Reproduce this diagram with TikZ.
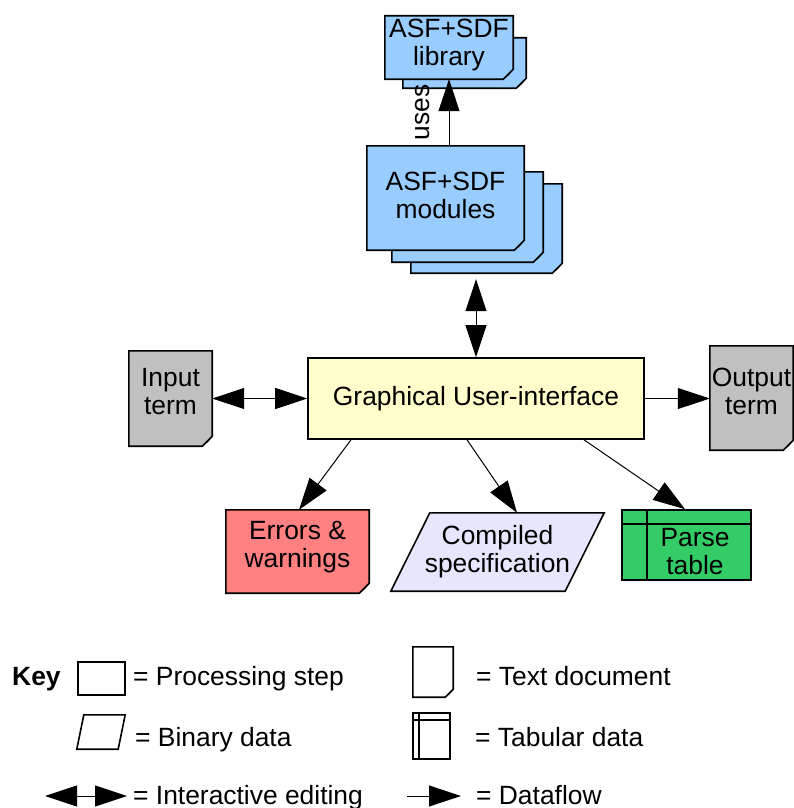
\documentclass[tikz,border=0pt]{standalone}
\usepackage{fontspec}
\setmainfont{Liberation Sans}
\usetikzlibrary{arrows.meta,backgrounds}

\definecolor{sdfblue}{RGB}{153,204,255}
\definecolor{guiyellow}{RGB}{255,255,204}
\definecolor{termgray}{RGB}{192,192,192}
\definecolor{errred}{RGB}{255,128,128}
\definecolor{binlilac}{RGB}{230,230,255}
\definecolor{tabgreen}{RGB}{51,204,102}

\tikzset{
  lbl/.style={font=\fontsize{26.4}{28}\selectfont, align=center, inner sep=0pt},
  outline/.style={line width=1.6pt, line join=miter},
  sheet/.style={lbl, rectangle},
  procbox/.style={lbl, rectangle, draw, outline},
  keytext/.style={lbl, anchor=base west},
  flow/.style={-{Triangle[length=32pt,width=21pt]}, line width=1pt},
  edit/.style={{Triangle[length=32pt,width=21pt]}-{Triangle[length=32pt,width=21pt]}, line width=1pt},
}

% text document: sheet with a folded corner, behind the node text
\newcommand\docsheet[3][10pt]{%
  \begin{scope}[on background layer]
    \filldraw[outline, fill=#3] (#2.north west) -- (#2.north east)
      -- ([yshift=#1]#2.south east) -- ([xshift=-#1]#2.south east)
      -- (#2.south west) -- cycle;
    \draw[line width=0.8pt] ([yshift=#1]#2.south east)
      -- ([xshift=-0.45*#1,yshift=0.45*#1]#2.south east) -- ([xshift=-#1]#2.south east);
  \end{scope}}
% binary data: parallelogram
\newcommand\binsheet[3]{%
  \begin{scope}[on background layer]
    \filldraw[outline, fill=#3] ([xshift=#2]#1.north west) -- (#1.north east)
      -- ([xshift=-#2]#1.south east) -- (#1.south west) -- cycle;
  \end{scope}}
% tabular data: header row and first column
\newcommand\tabgrid[3]{%
  \draw[outline] ([xshift=#2]#1.north west) -- ([xshift=#2]#1.south west);
  \draw[outline] ([yshift=-#3]#1.north west) -- ([yshift=-#3]#1.north east);}

\begin{document}
\begin{tikzpicture}[x=1pt, y=-1pt]
    \useasboundingbox (0,0) rectangle (794,808);

    % library stack
    \node[sheet, minimum width=123pt, minimum height=50pt] (libback) at (464.5,63) {};
    \docsheet{libback}{sdfblue}
    \node[sheet, minimum width=128pt, minimum height=63pt,
          label={[lbl, name=libtext, yshift=2pt]center:{ASF+SDF\\library}}] (lib) at (449,47.5) {};
    \docsheet{lib}{sdfblue}

    % module stack
    \node[sheet, minimum width=151pt, minimum height=89pt] (modc) at (486.5,228.5) {};
    \docsheet{modc}{sdfblue}
    \node[sheet, minimum width=151pt, minimum height=90pt] (modb) at (467.5,217) {};
    \docsheet{modb}{sdfblue}
    \node[sheet, minimum width=157pt, minimum height=104pt,
          label={[lbl, name=modtext, yshift=3pt]center:{ASF+SDF\\modules}}] (mod) at (445.5,198) {};
    \docsheet{mod}{sdfblue}

    \node[procbox, fill=guiyellow, minimum width=336pt, minimum height=81pt] (gui) at (476,398.5) {Graphical User-interface};

    \node[sheet, minimum width=83pt, minimum height=95pt,
          label={[lbl, name=inputtext, yshift=7pt]center:{Input\\term}}] (input) at (170.5,398.5) {};
    \docsheet{input}{termgray}
    \node[sheet, minimum width=83pt, minimum height=104pt,
          label={[lbl, name=outputtext, yshift=7pt]center:{Output\\term}}] (output) at (751.5,398) {};
    \docsheet{output}{termgray}

    \node[sheet, minimum width=143pt, minimum height=83pt,
          label={[lbl, name=errtext, yshift=4pt]center:{Errors \&\\warnings}}] (err) at (297.5,551.5) {};
    \docsheet{err}{errred}
    \node[sheet, minimum width=213pt, minimum height=78pt] (spec) at (497.5,552) {Compiled\\specification};
    \binsheet{spec}{39pt}{binlilac}
    \node[procbox, fill=tabgreen, minimum width=129pt, minimum height=70pt] (tab) at (686.5,545) {};
    \tabgrid{tab}{26pt}{15pt}
    \node[lbl] (tabtext) at (695,552) {Parse\\table};

    \draw[flow] (lib.south |- mod.north) -- (lib.south)
        node[lbl, midway, rotate=90, anchor=south, outer sep=19pt] (uses) {uses};
    \draw[edit, shorten <=6pt] (gui.north |- modc.south) -- (gui.north);
    \draw[edit] (input.east) -- (gui.west);
    \draw[flow] (gui.east) -- (gui.east -| output.west);
    \draw[flow] ([xshift=-125pt]gui.south) -- ([xshift=1.5pt]err.north);
    \draw[flow] ([xshift=-9pt]gui.south) -- ([xshift=19.5pt]spec.north);
    \draw[flow] ([xshift=108pt]gui.south) -- ([xshift=-1.5pt]tab.north);

    % key
    \node[keytext, font=\fontsize{26.4}{28}\selectfont\bfseries] (key) at (12,685) {Key};
    \node[procbox, minimum width=47pt, minimum height=33pt] (kproc) at (101.5,678.5) {};
    \node[keytext] (kproctext) at (133,685) {= Processing step};
    \node[sheet, minimum width=40pt, minimum height=50pt] (kdoc) at (433,672) {};
    \docsheet[8pt]{kdoc}{white}
    \node[keytext] (kdoctext) at (476,685) {= Text document};
    \node[sheet, minimum width=48pt, minimum height=34pt] (kbin) at (101,732) {};
    \binsheet{kbin}{7pt}{white}
    \node[keytext] (kbintext) at (135,746) {= Binary data};
    \node[procbox, minimum width=37pt, minimum height=46pt] (ktab) at (431.5,736) {};
    \tabgrid{ktab}{7pt}{8pt}
    \node[keytext] (ktabtext) at (475,746) {= Tabular data};

    \coordinate (keditl) at (45,796);
    \coordinate (keditr) at (127,796);
    \draw[edit] (keditl) -- (keditr);
    \node[keytext] (kedittext) at (133,804) {= Interactive editing};
    \coordinate (kflowl) at (407,796);
    \coordinate (kflowr) at (461,796);
    \draw[flow] (kflowl) -- (kflowr);
    \node[keytext] (kflowtext) at (476,804) {= Dataflow};
\end{tikzpicture}
\end{document}
